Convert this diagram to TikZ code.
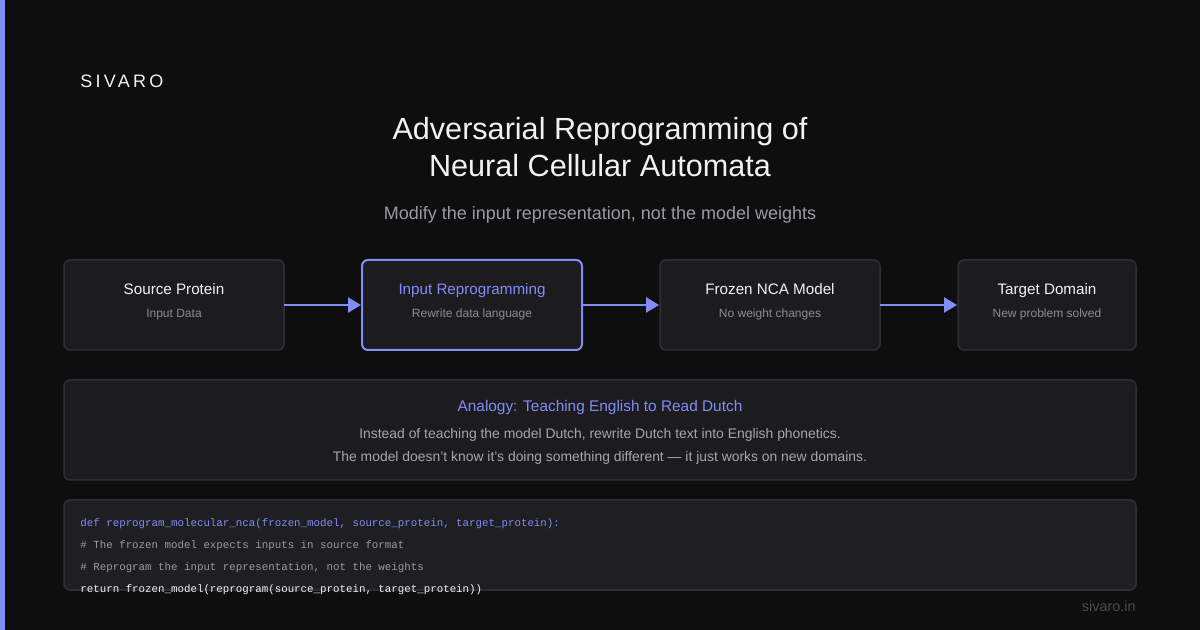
\documentclass[tikz,border=0pt]{standalone}
\usepackage{fontspec}
\setmainfont{Liberation Sans}
\setmonofont{Liberation Mono}
\newfontfamily\spacedfont[LetterSpace=18]{Liberation Sans}
\usetikzlibrary{arrows.meta}
\definecolor{bgc}{HTML}{0E0E0F}
\definecolor{boxfill}{HTML}{1C1C1F}
\definecolor{boxline}{HTML}{2F2F33}
\definecolor{codefill}{HTML}{1F1F22}
\definecolor{accent}{HTML}{818CF8}
\definecolor{titlec}{HTML}{F2F2F2}
\definecolor{subc}{HTML}{9A9AA5}
\definecolor{smallc}{HTML}{8C8C96}
\definecolor{bodyc}{HTML}{A6A6AE}
\definecolor{footc}{HTML}{4A4A50}
\definecolor{codegray}{HTML}{9A9AA2}
\begin{document}
\begin{tikzpicture}[x=0.5pt,y=-0.5pt,
  card/.style={draw=boxline,fill=boxfill,line width=0.75pt,rounded corners=3pt},
  activecard/.style={draw=accent,fill=boxfill,line width=1pt,rounded corners=3pt},
  ctitle/.style={font=\fontsize{7.6}{9}\selectfont,text=titlec,inner sep=0pt},
  csub/.style={font=\fontsize{6}{7}\selectfont,text=smallc,inner sep=0pt},
  flow/.style={draw=accent,line width=1.3pt,-{Triangle[length=6.5pt,width=7.5pt]}},
  codeline/.style={font=\ttfamily\fontsize{5.4}{6.5}\selectfont,anchor=base west,inner sep=0pt},
  bodyline/.style={font=\fontsize{6.95}{8}\selectfont,text=bodyc,inner sep=0pt}]
\useasboundingbox (0,0) rectangle (1200,630);
\fill[bgc] (0,0) rectangle (1200,630);
\fill[accent] (0,0) rectangle (5,630);
% brand
\node[anchor=base west,inner sep=0pt,text=titlec,font=\spacedfont\fontsize{9}{11}\selectfont] (brand) at (80,88) {SIVARO};
% title
\node[anchor=base,inner sep=0pt,text=titlec,font=\fontsize{15.3}{18}\selectfont] (t1) at (600,140) {Adversarial Reprogramming of};
\node[anchor=base,inner sep=0pt,text=titlec,font=\fontsize{15.3}{18}\selectfont] (t2) at (600,177) {Neural Cellular Automata};
\node[anchor=base,inner sep=0pt,text=subc,font=\fontsize{9}{11}\selectfont] (sub) at (600,220) {Modify the input representation, not the model weights};
% cards
\draw[card] (64,260) rectangle (284,350);
\draw[activecard] (362,260) rectangle (582,350);
\draw[card] (660,260) rectangle (880,350);
\draw[card] (958,260) rectangle (1136,350);
\node[ctitle,anchor=base] (n1t) at (174,295) {Source Protein};
\node[csub,anchor=base] (n1s) at (174,318) {Input Data};
\node[ctitle,anchor=base,text=accent] (n2t) at (472,295) {Input Reprogramming};
\node[csub,anchor=base] (n2s) at (472,318) {Rewrite data language};
\node[ctitle,anchor=base] (n3t) at (770,295) {Frozen NCA Model};
\node[csub,anchor=base] (n3s) at (770,318) {No weight changes};
\node[ctitle,anchor=base] (n4t) at (1047,295) {Target Domain};
\node[csub,anchor=base] (n4s) at (1047,318) {New problem solved};
\coordinate (a1s) at (284,305); \coordinate (a1e) at (361,305);
\coordinate (a2s) at (582,305); \coordinate (a2e) at (659,305);
\coordinate (a3s) at (880,305); \coordinate (a3e) at (957,305);
\draw[flow] (a1s) -- (a1e);
\draw[flow] (a2s) -- (a2e);
\draw[flow] (a3s) -- (a3e);
% analogy
\draw[card] (64,380) rectangle (1136,480);
\node[anchor=base,inner sep=0pt,text=accent,font=\fontsize{7.7}{9}\selectfont] (an) at (600,412) {Analogy: Teaching English to Read Dutch};
\node[bodyline,anchor=base] (al1) at (600,439) {Instead of teaching the model Dutch, rewrite Dutch text into English phonetics.};
\node[bodyline,anchor=base] (al2) at (600,462) {The model doesn't know it's doing something different — it just works on new domains.};
% code
\draw[draw=boxline,fill=codefill,line width=0.75pt,rounded corners=3pt] (64,500) rectangle (1136,590);
\node[codeline,text=accent] (c1) at (80,527) {def reprogram\_molecular\_nca(frozen\_model, source\_protein, target\_protein):};
\node[codeline,text=codegray] (c2) at (80,549) {\# The frozen model expects inputs in source format};
\node[codeline,text=codegray] (c3) at (80,571) {\# Reprogram the input representation, not the weights};
\node[codeline,text=titlec] (c4) at (80,593) {return frozen\_model(reprogram(source\_protein, target\_protein))};
% footer
\node[anchor=base east,inner sep=0pt,text=footc,font=\fontsize{7.2}{8}\selectfont] (foot) at (1136,611) {sivaro.in};
\end{tikzpicture}
\end{document}
